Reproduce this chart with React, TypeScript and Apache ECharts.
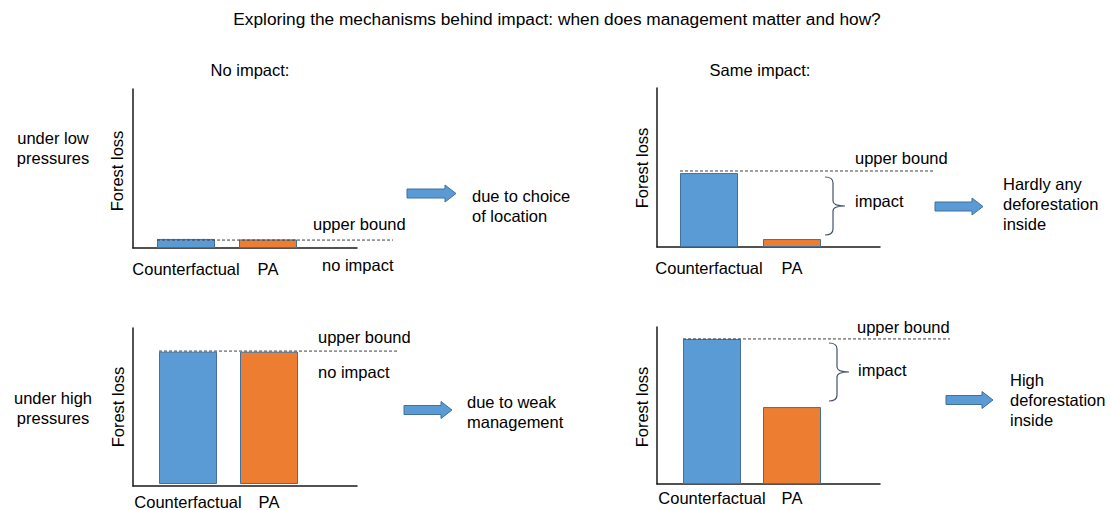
import React, { useEffect, useRef } from 'react';
import * as echarts from 'echarts';

// ---------- data ----------
const categories = ['Counterfactual', 'PA'];
const lowPressureNoImpact = [5.7, 5.4];
const lowPressureSameImpact = [46.5, 5.0];
const highPressureNoImpact = [84.8, 84.8];
const highPressureSameImpact = [92.4, 49.0];
const upperBounds = [5.0, 47.8, 85.4, 92.4];
const panelValues = [lowPressureNoImpact, lowPressureSameImpact, highPressureNoImpact, highPressureSameImpact];
const barColors = ['#5B9BD5', '#ED7D31'];

const titleText = 'Exploring the mechanisms behind impact: when does management matter and how?';

// ---------- layout ----------
const outerGrids = [
  { left: 133, top: 89, width: 224, height: 159 },
  { left: 657, top: 88, width: 223, height: 159 },
  { left: 133, top: 328, width: 224, height: 158 },
  { left: 657, top: 327, width: 223, height: 157 },
];
const innerGrids = [
  { left: 145, top: 89, width: 164, height: 159 },
  { left: 667.5, top: 88, width: 166, height: 159 },
  { left: 147.5, top: 328, width: 162, height: 158 },
  { left: 672, top: 327, width: 160, height: 157 },
];
const labelMargins = [12, 12, 9, 5];
const dashedX = [
  [157, 393],
  [680, 935],
  [159, 397],
  [683, 950],
];

const FONT = 'Liberation Sans, Arial, Helvetica, sans-serif';
const FS = 16.5;

function txt(text: string, x: number, y: number, align: string = 'left', size = FS, rotation = 0) {
  return {
    type: 'text',
    x,
    y,
    rotation,
    silent: true,
    style: {
      text,
      fill: '#000',
      fontSize: size,
      fontFamily: FONT,
      align,
      verticalAlign: 'middle',
      lineHeight: 20,
    },
  };
}

function arrow(x0: number, yc: number, len: number) {
  const headX = x0 + len - 11;
  return {
    type: 'polygon',
    silent: true,
    shape: {
      points: [
        [x0, yc - 4.5],
        [headX, yc - 4.5],
        [headX, yc - 8.5],
        [x0 + len, yc],
        [headX, yc + 8.5],
        [headX, yc + 4.5],
        [x0, yc + 4.5],
      ],
    },
    style: { fill: '#5B9BD5', stroke: '#41719C', lineWidth: 1 },
  };
}

const H = 58;
const braceD = `M0 0 Q8 0 8 6 L8 ${H / 2 - 5} Q8 ${H / 2} 20 ${H / 2} Q8 ${H / 2} 8 ${H / 2 + 5} L8 ${H - 6} Q8 ${H} 0 ${H}`;
let registered = false;

export default function App() {
  const ref = useRef<HTMLDivElement>(null);
  useEffect(() => {
    if (!ref.current) return;
    if (!registered) {
      echarts.graphic.registerShape('brace', echarts.graphic.extendPath(braceD, {}) as any);
      registered = true;
    }
    const chart = echarts.init(ref.current, null, { renderer: 'svg' });

    const grids = [...outerGrids, ...innerGrids];
    const xAxes: any[] = [];
    const yAxes: any[] = [];
    outerGrids.forEach((_, k) => {
      xAxes.push({
        type: 'value', gridIndex: k, min: 0, max: 1,
        axisLine: { show: true, lineStyle: { color: '#1a1a1a', width: 1.5 } },
        axisTick: { show: false }, axisLabel: { show: false }, splitLine: { show: false },
      });
      yAxes.push({
        type: 'value', gridIndex: k, min: 0, max: 100,
        axisLine: { show: true, lineStyle: { color: '#1a1a1a', width: 1.5 } },
        axisTick: { show: false }, axisLabel: { show: false }, splitLine: { show: false },
      });
    });
    innerGrids.forEach((_, k) => {
      xAxes.push({
        type: 'category', gridIndex: k + 4, data: categories,
        axisLine: { show: false }, axisTick: { show: false }, splitLine: { show: false },
        axisLabel: { color: '#000', fontSize: FS, fontFamily: FONT, margin: labelMargins[k], interval: 0 },
      });
      yAxes.push({ type: 'value', gridIndex: k + 4, min: 0, max: 100, show: false });
    });

    const series = panelValues.map((vals, k) => ({
      type: 'bar',
      xAxisIndex: k + 4,
      yAxisIndex: k + 4,
      barWidth: 58,
      data: vals.map((v, i) => ({
        value: v,
        itemStyle: { color: barColors[i], borderColor: '#41719C', borderWidth: 1 },
      })),
    }));

    chart.setOption({
      animation: false,
      backgroundColor: '#fff',
      grid: grids.map((g) => ({ ...g, containLabel: false })),
      xAxis: xAxes,
      yAxis: yAxes,
      series,
    });

    const dashed = upperBounds.map((ub, k) => {
      const y = chart.convertToPixel({ yAxisIndex: k }, ub) as number;
      return {
        type: 'line',
        silent: true,
        shape: { x1: dashedX[k][0], y1: y, x2: dashedX[k][1], y2: y },
        style: { stroke: '#404040', lineWidth: 1, lineDash: [3, 2] },
        z: 10,
      };
    });

    const braceStyle = { stroke: '#44546A', lineWidth: 1.2, fill: 'none' };

    const elements: any[] = [
      txt(titleText, 557, 19, 'center', 17.3),
      txt('No impact:', 250, 70, 'center'),
      txt('Same impact:', 760, 70, 'center'),
      txt('under low\npressures', 53, 148, 'center'),
      txt('under high\npressures', 53, 408, 'center'),
      txt('Forest loss', 117, 171, 'center', FS, Math.PI / 2),
      txt('Forest loss', 642, 168, 'center', FS, Math.PI / 2),
      txt('Forest loss', 118, 407, 'center', FS, Math.PI / 2),
      txt('Forest loss', 642, 407, 'center', FS, Math.PI / 2),
      txt('upper bound', 313, 224),
      txt('no impact', 322, 265),
      txt('upper bound', 855, 158),
      txt('impact', 855, 201),
      txt('upper bound', 318, 337),
      txt('no impact', 318, 372),
      txt('upper bound', 857, 327),
      txt('impact', 858, 370),
      txt('due to choice\nof location', 472, 206),
      txt('Hardly any\ndeforestation\ninside', 1003, 204),
      txt('due to weak\nmanagement', 467, 412),
      txt('High\ndeforestation\ninside', 1010, 400),
      arrow(407, 193.5, 49),
      arrow(935, 206.5, 48),
      arrow(404, 410, 48),
      arrow(946, 400, 47),
      { type: 'brace', x: 825, y: 177, silent: true, style: braceStyle },
      { type: 'brace', x: 829, y: 343, silent: true, style: braceStyle },
      ...dashed,
    ];

    chart.setOption({ graphic: elements });

    return () => chart.dispose();
  }, []);

  return (
    <div
      ref={ref}
      style={{ position: 'fixed', left: 0, top: 0, width: 1111, height: 510, background: '#fff' }}
    />
  );
}
